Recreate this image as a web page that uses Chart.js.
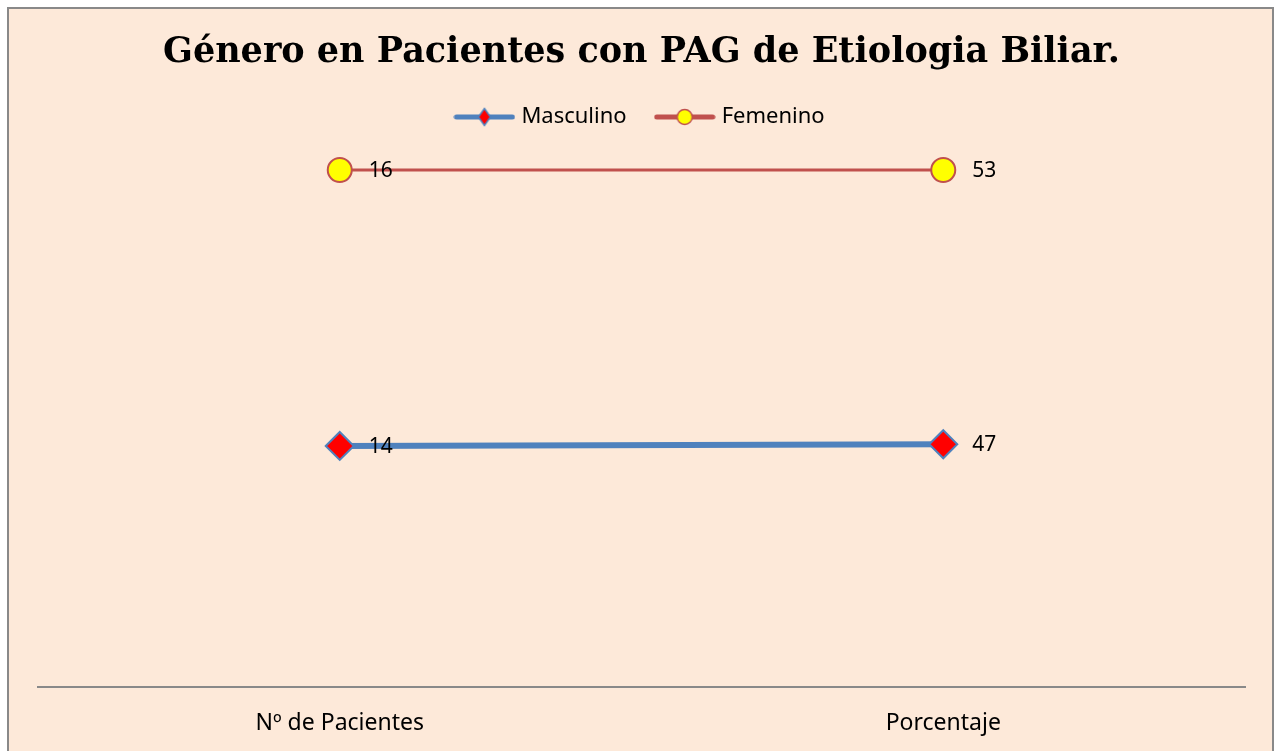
<!DOCTYPE html>
<html>
<head>
<meta charset="utf-8">
<script src="https://cdn.jsdelivr.net/npm/chart.js@4"></script>
<style>
  html, body { margin: 0; padding: 0; background: #ffffff; }
  #wrap { width: 1279px; height: 751px; position: relative; }
</style>
</head>
<body>
<div id="wrap"><canvas id="chart" width="1279" height="751"></canvas></div>
<script>
const categories = ['Nº de Pacientes', 'Porcentaje'];
const masculino = [14, 47];
const femenino = [16, 53];

// 100% stacked line: each series as share of the category total
const totals = categories.map((c, i) => masculino[i] + femenino[i]);
const mascPct = masculino.map((v, i) => v / totals[i] * 100);
const femPct = femenino.map((v, i) => v / totals[i] * 100);

const textFont = 'Noto Sans';

// legend swatch: line with marker in the middle
function swatch(lineColor, lineWidth, style) {
  const c = document.createElement('canvas');
  c.width = 62;
  c.height = 22;
  const g = c.getContext('2d');
  g.strokeStyle = lineColor;
  g.lineWidth = lineWidth;
  g.lineCap = 'round';
  g.beginPath();
  g.moveTo(3, 11);
  g.lineTo(59, 11);
  g.stroke();
  if (style === 'diamond') {
    g.fillStyle = '#ff0000';
    g.strokeStyle = '#4f81bd';
    g.lineWidth = 1.5;
    g.beginPath();
    g.moveTo(31, 2.5);
    g.lineTo(37, 11);
    g.lineTo(31, 19.5);
    g.lineTo(25, 11);
    g.closePath();
    g.fill();
    g.stroke();
  } else {
    g.fillStyle = '#ffff00';
    g.strokeStyle = '#c0504d';
    g.lineWidth = 1.5;
    g.beginPath();
    g.arc(31, 11, 7.5, 0, Math.PI * 2);
    g.fill();
    g.stroke();
  }
  return c;
}

const frame = {
  id: 'frame',
  beforeDraw(chart) {
    const ctx = chart.ctx;
    ctx.save();
    ctx.fillStyle = '#fde9d9';
    ctx.fillRect(8, 8, 1265, 760);
    ctx.strokeStyle = '#898989';
    ctx.lineWidth = 2;
    ctx.strokeRect(8, 8, 1265, 760);
    ctx.restore();
  }
};

const valueLabels = {
  id: 'valueLabels',
  afterDatasetsDraw(chart) {
    const ctx = chart.ctx;
    ctx.save();
    ctx.font = '21px "' + textFont + '"';
    ctx.fillStyle = '#000000';
    ctx.textAlign = 'left';
    ctx.textBaseline = 'middle';
    const raw = [masculino, femenino];
    chart.data.datasets.forEach((ds, di) => {
      chart.getDatasetMeta(di).data.forEach((pt, i) => {
        ctx.fillText(String(raw[di][i]), pt.x + 29, pt.y + 1);
      });
    });
    ctx.restore();
  }
};

const legendSpace = {
  id: 'legendSpace',
  beforeInit(chart) {
    const fit = chart.legend.fit;
    chart.legend.fit = function () {
      fit.bind(chart.legend)();
      this.height += 32;
    };
  }
};

const ctx = document.getElementById('chart').getContext('2d');
const myChart = new Chart(ctx, {
  type: 'line',
  data: {
    labels: categories,
    datasets: [
      {
        label: 'Masculino',
        data: mascPct,
        borderColor: '#4f81bd',
        borderWidth: 6,
        pointStyle: 'rectRot',
        pointRadius: 14,
        pointBackgroundColor: '#ff0000',
        pointBorderColor: '#4f81bd',
        pointBorderWidth: 2,
        clip: false,
        legendImg: swatch('#4f81bd', 5, 'diamond'),
      },
      {
        label: 'Femenino',
        data: femPct,
        borderColor: '#c0504d',
        borderWidth: 3,
        pointStyle: 'circle',
        pointRadius: 12,
        pointBackgroundColor: '#ffff00',
        pointBorderColor: '#c0504d',
        pointBorderWidth: 2,
        clip: false,
        legendImg: swatch('#c0504d', 5, 'circle'),
      },
    ],
  },
  options: {
    responsive: false,
    animation: false,
    layout: { padding: { left: 38, right: 34, top: 0, bottom: -8 } },
    plugins: {
      title: {
        display: true,
        text: 'Género en Pacientes con PAG de Etiologia Biliar.',
        color: '#000000',
        font: { family: 'DejaVu Serif', size: 35, weight: 'bold' },
        padding: { top: 32, bottom: 0 },
      },
      legend: {
        display: true,
        position: 'top',
        labels: {
          usePointStyle: true,
          pointStyleWidth: 52,
          padding: 32,
          color: '#000000',
          font: { family: textFont, size: 22 },
          generateLabels(chart) {
            return chart.data.datasets.map((ds, i) => ({
              text: ds.label,
              pointStyle: ds.legendImg,
              fillStyle: ds.borderColor,
              strokeStyle: ds.borderColor,
              lineWidth: 0,
              hidden: false,
              datasetIndex: i,
              fontColor: '#000000',
            }));
          },
        },
      },
      tooltip: { enabled: false },
    },
    scales: {
      x: {
        offset: true,
        grid: { display: false, drawTicks: false },
        border: { display: true, color: '#898989', width: 2 },
        ticks: { color: '#000000', padding: 22, font: { family: textFont, size: 23 } },
      },
      y: {
        display: false,
        stacked: true,
        min: 0,
        max: 100,
      },
    },
  },
  plugins: [frame, valueLabels, legendSpace],
});
</script>
</body>
</html>
